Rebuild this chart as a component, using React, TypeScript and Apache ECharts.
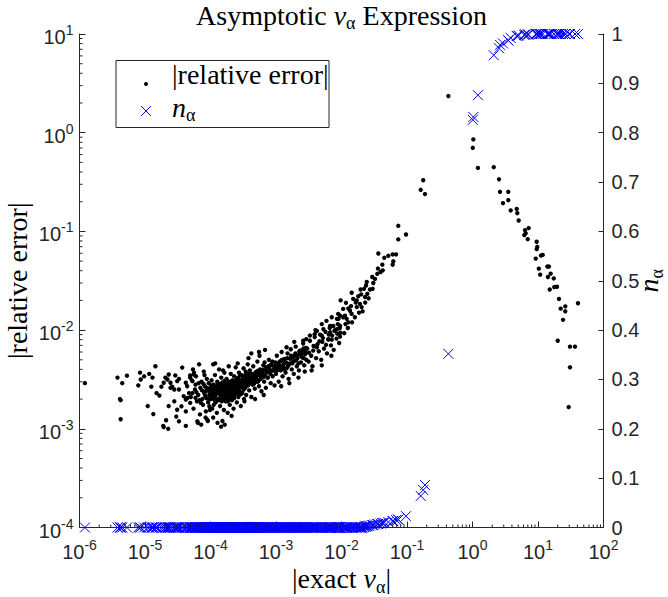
import React, { useEffect, useRef } from 'react';
import * as echarts from 'echarts';

const SERIF = '"Liberation Serif", "Times New Roman", serif';
const SANS = '"Liberation Sans", Arial, Helvetica, sans-serif';
const AXIS_COLOR = '#262626';
const BLUE = '#0000ff';

// ---- Data ----
// Pairs [|exact v_alpha|, |relative error|]; n_alpha is 0 for every point of these pair arrays.
const errSparse: number[][] = [
  [1.21e-6, 2.9e-3],
  [3.8e-6, 3.3e-3], [4.5e-6, 2.9e-3], [5.3e-6, 3.45e-3], [4.15e-6, 2.0e-3], [4.25e-6, 1.95e-3], [4.25e-6, 1.25e-3],
  [7.9e-6, 2.75e-3], [8.4e-6, 3.7e-3], [8.6e-6, 3.16e-3], [9.7e-6, 3.4e-3], [1.16e-5, 3.6e-3], [1.3e-5, 3.3e-3],
  [1.25e-5, 2.67e-3], [1.44e-5, 4.3e-3], [1.5e-5, 2.3e-3], [1.66e-5, 2.17e-3], [1.1e-5, 1.7e-3], [1.34e-5, 1.41e-3],
  [1.78e-5, 2.67e-3], [1.9e-5, 1.07e-3], [1.93e-5, 1.04e-3], [2.26e-5, 1.0e-3], [2.1e-5, 1.22e-3], [2.05e-5, 3.3e-3],
  [2.3e-5, 3.55e-3], [2.2e-5, 3.16e-3], [2.45e-5, 2.93e-3], [2.6e-5, 2.67e-3], [2.8e-5, 2.5e-3], [2.9e-5, 3.47e-3],
  [3.3e-5, 3.2e-3], [3.7e-5, 4.17e-3], [2.8e-5, 1.9e-3], [3.1e-5, 1.56e-3], [3.0e-5, 1.33e-3], [3.3e-5, 1.19e-3],
  [2.3e-5, 1.7e-3], [1.93e-5, 2.93e-3], [2.45e-5, 2.6e-3], [3.1e-5, 3.04e-3], [3.3e-5, 2.5e-3], [3.6e-5, 1.69e-3],
  [3.9e-5, 2.14e-3], [4.2e-5, 1.07e-3], [4.2e-5, 1.5e-3], [4.2e-5, 1.98e-3], [4.2e-5, 2.93e-3], [4.4e-5, 2.7e-3],
  [4.45e-5, 2.05e-3], [4.7e-5, 2.3e-3], [4.9e-5, 1.83e-3], [4.9e-5, 3.3e-3], [4.9e-5, 3.47e-3],
];

const errCore: number[][] = [
  [5.3e-5, 2.3e-3], [5.3e-5, 3.04e-3], [5.6e-5, 3.55e-3], [5.6e-5, 3.7e-3], [5.9e-5, 2.8e-3], [5.9e-5, 2.06e-3],
  [6.3e-5, 1.19e-3], [6.7e-5, 4.5e-3], [7.1e-5, 1.83e-3], [8.5e-5, 1.5e-3], [8.9e-5, 1.24e-3], [9.6e-5, 1.69e-3],
  [1.1e-4, 4.5e-3], [5.0e-5, 2.1e-3], [5.2e-5, 3.1e-3], [5.5e-5, 1.6e-3], [5.8e-5, 2.5e-3], [6.0e-5, 3.4e-3],
  [6.2e-5, 1.9e-3], [6.5e-5, 2.2e-3], [6.6e-5, 2.9e-3], [6.9e-5, 1.4e-3], [7.0e-5, 2.6e-3], [7.3e-5, 3.0e-3],
  [7.5e-5, 2.0e-3], [7.7e-5, 1.75e-3], [7.9e-5, 3.8e-3], [8.0e-5, 2.3e-3], [8.2e-5, 2.7e-3], [8.4e-5, 1.3e-3],
  [8.6e-5, 2.05e-3], [8.8e-5, 3.2e-3], [9.0e-5, 2.45e-3], [9.2e-5, 1.85e-3], [9.4e-5, 2.9e-3], [9.6e-5, 2.2e-3],
  [9.8e-5, 1.55e-3], [1.0e-4, 2.6e-3], [5.4e-5, 4.0e-3], [6.4e-5, 1.15e-3], [7.2e-5, 1.1e-3], [8.1e-5, 3.5e-3],
  [9.1e-5, 1.2e-3],
  [1.02e-4, 2.0e-3], [1.04e-4, 3.1e-3], [1.06e-4, 1.6e-3], [1.08e-4, 2.4e-3], [1.1e-4, 1.3e-3], [1.12e-4, 2.8e-3],
  [1.15e-4, 2.15e-3], [1.17e-4, 3.5e-3], [1.2e-4, 1.85e-3], [1.22e-4, 2.6e-3], [1.25e-4, 1.45e-3], [1.27e-4, 3.0e-3],
  [1.3e-4, 2.3e-3], [1.32e-4, 1.95e-3], [1.35e-4, 4.0e-3], [1.38e-4, 2.7e-3], [1.4e-4, 1.7e-3], [1.43e-4, 2.2e-3],
  [1.46e-4, 3.3e-3], [1.5e-4, 2.5e-3], [1.52e-4, 1.2e-3], [1.55e-4, 2.05e-3], [1.58e-4, 2.9e-3], [1.6e-4, 1.55e-3],
  [1.63e-4, 3.7e-3], [1.66e-4, 2.35e-3], [1.7e-4, 1.9e-3], [1.73e-4, 2.75e-3], [1.76e-4, 3.2e-3], [1.8e-4, 2.1e-3],
  [1.83e-4, 1.45e-3], [1.86e-4, 2.6e-3], [1.9e-4, 3.0e-3], [1.93e-4, 2.25e-3], [1.97e-4, 1.75e-3], [2.0e-4, 2.8e-3],
  [2.04e-4, 3.6e-3], [2.08e-4, 2.4e-3], [2.12e-4, 1.95e-3], [2.16e-4, 3.1e-3], [2.2e-4, 2.6e-3], [2.25e-4, 1.6e-3],
  [2.3e-4, 3.4e-3], [2.34e-4, 2.2e-3], [2.38e-4, 2.9e-3], [2.43e-4, 4.2e-3], [2.48e-4, 2.5e-3], [2.52e-4, 1.85e-3],
  [2.57e-4, 3.2e-3], [2.62e-4, 2.7e-3], [2.67e-4, 2.1e-3], [2.72e-4, 3.7e-3], [2.78e-4, 2.4e-3], [2.83e-4, 3.0e-3],
  [2.9e-4, 1.7e-3], [2.95e-4, 2.65e-3], [1.18e-4, 4.6e-3], [1.45e-4, 1.05e-3], [1.65e-4, 1.1e-3], [1.28e-4, 1.15e-3],
  [2.1e-4, 1.35e-3], [1.9e-4, 4.3e-3], [1.55e-4, 3.9e-3], [2.6e-4, 4.6e-3], [1.34e-4, 2.45e-3], [1.62e-4, 2.65e-3],
  [1.75e-4, 2.4e-3], [2.05e-4, 2.15e-3], [2.28e-4, 2.75e-3], [1.12e-4, 1.75e-3],
  [6.1e-5, 2.35e-3], [6.8e-5, 1.95e-3], [7.4e-5, 2.45e-3], [7.8e-5, 2.85e-3], [8.3e-5, 2.15e-3], [8.7e-5, 2.6e-3],
  [9.3e-5, 2.0e-3], [9.9e-5, 2.35e-3], [1.03e-4, 2.75e-3], [1.07e-4, 2.1e-3], [1.11e-4, 2.5e-3], [1.16e-4, 1.95e-3],
  [1.21e-4, 2.3e-3], [1.26e-4, 2.7e-3], [1.31e-4, 2.0e-3], [1.37e-4, 2.25e-3], [1.42e-4, 2.85e-3], [1.48e-4, 1.9e-3],
  [1.54e-4, 2.7e-3], [1.59e-4, 2.2e-3], [1.64e-4, 3.05e-3], [1.69e-4, 2.5e-3], [1.74e-4, 2.05e-3], [1.79e-4, 2.85e-3],
  [1.85e-4, 2.3e-3], [1.91e-4, 2.6e-3], [1.96e-4, 2.0e-3], [2.02e-4, 2.45e-3], [2.07e-4, 3.0e-3], [2.14e-4, 2.25e-3],
  [2.19e-4, 2.85e-3], [2.24e-4, 2.4e-3], [2.31e-4, 2.05e-3], [2.37e-4, 2.65e-3], [2.44e-4, 3.1e-3], [2.5e-4, 2.3e-3],
  [2.56e-4, 2.85e-3], [2.64e-4, 3.3e-3], [2.7e-4, 2.55e-3], [2.76e-4, 2.95e-3], [2.85e-4, 3.5e-3], [2.92e-4, 2.25e-3],
  [3.02e-4, 2.7e-3], [3.12e-4, 3.35e-3], [3.22e-4, 2.5e-3], [3.35e-4, 3.0e-3], [3.48e-4, 3.6e-3], [3.62e-4, 2.75e-3],
  [3.78e-4, 3.2e-3], [3.95e-4, 3.65e-3], [4.12e-4, 2.9e-3], [4.3e-4, 3.3e-3], [4.5e-4, 3.05e-3], [4.7e-4, 3.55e-3],
  [4.95e-4, 3.25e-3], [5.2e-4, 3.85e-3], [5.45e-4, 3.1e-3], [5.75e-4, 3.5e-3], [6.05e-4, 3.9e-3], [6.4e-4, 3.35e-3],
  [3.0e-4, 3.5e-3], [3.05e-4, 2.3e-3], [3.1e-4, 2.9e-3], [3.2e-4, 4.1e-3], [3.25e-4, 2.0e-3], [3.3e-4, 3.2e-3],
  [3.4e-4, 2.6e-3], [3.45e-4, 3.8e-3], [3.5e-4, 2.2e-3], [3.6e-4, 3.0e-3], [3.7e-4, 4.5e-3], [3.75e-4, 2.75e-3],
  [3.85e-4, 3.4e-3], [3.9e-4, 2.45e-3], [4.0e-4, 3.9e-3], [4.1e-4, 3.1e-3], [4.2e-4, 2.1e-3], [4.3e-4, 3.6e-3],
  [4.4e-4, 2.8e-3], [4.5e-4, 4.3e-3], [4.6e-4, 3.3e-3], [4.75e-4, 2.55e-3], [4.9e-4, 3.75e-3], [5.0e-4, 3.0e-3],
  [5.2e-4, 4.8e-3], [5.35e-4, 3.5e-3], [5.5e-4, 2.7e-3], [5.7e-4, 4.0e-3], [5.85e-4, 3.2e-3], [6.0e-4, 2.4e-3],
  [6.2e-4, 3.7e-3], [6.4e-4, 4.4e-3], [6.6e-4, 3.0e-3], [6.8e-4, 3.55e-3], [7.0e-4, 2.6e-3], [7.3e-4, 4.1e-3],
  [7.5e-4, 3.3e-3], [7.8e-4, 5.0e-3], [8.0e-4, 3.8e-3], [8.3e-4, 2.9e-3], [8.6e-4, 4.4e-3], [8.9e-4, 3.4e-3],
  [9.2e-4, 3.9e-3], [9.5e-4, 2.75e-3], [9.8e-4, 4.7e-3], [3.3e-4, 1.9e-3], [4.8e-4, 2.0e-3], [6.5e-4, 2.2e-3],
  [3.8e-4, 5.2e-3], [5.6e-4, 5.5e-3], [5.5e-4, 6.0e-3], [6.8e-4, 6.3e-3], [4.2e-4, 5.8e-3],
  [7.0e-4, 3.9e-3], [7.7e-4, 4.3e-3], [8.2e-4, 3.6e-3], [8.8e-4, 4.8e-3], [9.4e-4, 4.1e-3], [6.7e-4, 4.7e-3],
  [7.4e-4, 3.3e-3],
];

const errDense: number[][] = [
  [8.5e-5, 2.4e-3], [9.5e-5, 2.55e-3], [1.05e-4, 2.3e-3], [1.13e-4, 2.65e-3], [1.19e-4, 2.15e-3], [1.24e-4, 2.45e-3],
  [1.29e-4, 2.85e-3], [1.36e-4, 2.55e-3], [1.41e-4, 2.05e-3], [1.47e-4, 2.4e-3], [1.53e-4, 2.95e-3], [1.57e-4, 2.45e-3],
  [1.61e-4, 1.95e-3], [1.68e-4, 2.75e-3], [1.72e-4, 2.25e-3], [1.78e-4, 2.6e-3], [1.84e-4, 1.9e-3], [1.88e-4, 2.8e-3],
  [1.95e-4, 2.5e-3], [2.01e-4, 2.15e-3], [2.06e-4, 2.65e-3], [2.11e-4, 2.9e-3], [2.18e-4, 2.45e-3], [2.23e-4, 2.1e-3],
  [2.29e-4, 2.6e-3], [2.36e-4, 3.0e-3], [2.42e-4, 2.4e-3], [2.47e-4, 2.75e-3], [2.55e-4, 2.55e-3], [2.61e-4, 3.05e-3],
  [2.69e-4, 2.8e-3], [2.75e-4, 2.3e-3], [2.82e-4, 2.7e-3], [2.88e-4, 3.1e-3], [2.97e-4, 2.85e-3], [3.07e-4, 3.1e-3],
  [3.17e-4, 2.8e-3], [3.28e-4, 3.4e-3], [3.41e-4, 2.9e-3], [3.55e-4, 3.25e-3], [3.68e-4, 3.5e-3], [3.82e-4, 2.95e-3],
  [4.05e-4, 3.35e-3], [4.25e-4, 3.0e-3], [4.4e-4, 3.45e-3], [4.6e-4, 2.85e-3], [4.85e-4, 3.4e-3], [5.1e-4, 3.6e-3],
  [5.3e-4, 3.0e-3], [5.6e-4, 3.7e-3], [5.9e-4, 3.35e-3], [6.25e-4, 3.95e-3], [6.6e-4, 3.5e-3], [7.0e-4, 4.2e-3],
  [7.4e-4, 3.75e-3], [7.9e-4, 4.05e-3], [8.4e-4, 4.5e-3], [8.9e-4, 3.9e-3], [9.6e-4, 4.35e-3], [1.04e-3, 3.9e-3],
  [1.12e-3, 4.4e-3], [1.2e-3, 4.9e-3], [1.28e-3, 4.25e-3], [1.37e-3, 4.65e-3], [1.48e-3, 5.2e-3], [1.58e-3, 4.5e-3],
  [1.7e-3, 5.5e-3], [1.84e-3, 4.8e-3], [1.98e-3, 5.8e-3], [2.12e-3, 5.2e-3], [2.28e-3, 6.1e-3], [2.45e-3, 5.6e-3],
  [2.62e-3, 6.5e-3], [2.8e-3, 5.7e-3],
];

const errBand: number[][] = [
  [1.0e-3, 3.6e-3], [1.03e-3, 5.5e-3], [1.06e-3, 4.2e-3], [1.1e-3, 3.0e-3], [1.14e-3, 4.8e-3], [1.18e-3, 3.9e-3],
  [1.22e-3, 6.0e-3], [1.26e-3, 3.4e-3], [1.3e-3, 4.5e-3], [1.35e-3, 5.1e-3], [1.4e-3, 3.7e-3], [1.45e-3, 4.1e-3],
  [1.5e-3, 5.8e-3], [1.56e-3, 3.2e-3], [1.62e-3, 4.6e-3], [1.68e-3, 6.4e-3], [1.74e-3, 4.0e-3], [1.8e-3, 5.3e-3],
  [1.87e-3, 3.6e-3], [1.94e-3, 4.9e-3], [2.0e-3, 6.8e-3], [2.08e-3, 4.3e-3], [2.16e-3, 5.6e-3], [2.24e-3, 3.9e-3],
  [2.32e-3, 6.2e-3], [2.4e-3, 4.7e-3], [2.5e-3, 5.3e-3], [2.6e-3, 7.3e-3], [2.7e-3, 4.4e-3], [2.8e-3, 6.0e-3],
  [2.9e-3, 5.0e-3], [1.2e-3, 2.7e-3], [1.6e-3, 2.9e-3], [2.2e-3, 3.3e-3], [2.75e-3, 3.8e-3], [1.9e-3, 7.6e-3],
  [1.45e-3, 6.7e-3], [1.08e-3, 4.6e-3], [1.16e-3, 4.2e-3], [1.24e-3, 5.0e-3], [1.33e-3, 4.0e-3], [1.42e-3, 4.7e-3],
  [1.52e-3, 4.3e-3], [1.65e-3, 5.1e-3], [1.77e-3, 4.6e-3], [1.9e-3, 5.5e-3], [2.05e-3, 5.0e-3], [2.2e-3, 4.6e-3],
  [2.35e-3, 5.6e-3], [2.55e-3, 6.1e-3], [2.65e-3, 5.2e-3], [2.85e-3, 6.6e-3],
  [3.0e-3, 6.5e-3], [3.15e-3, 4.8e-3], [3.3e-3, 7.8e-3], [3.45e-3, 5.5e-3], [3.6e-3, 4.3e-3], [3.75e-3, 6.9e-3],
  [3.9e-3, 8.5e-3], [4.1e-3, 5.2e-3], [4.3e-3, 7.2e-3], [4.5e-3, 6.1e-3], [4.7e-3, 9.0e-3], [4.9e-3, 5.0e-3],
  [5.1e-3, 7.6e-3], [5.4e-3, 6.5e-3], [5.7e-3, 9.6e-3], [6.0e-3, 5.8e-3], [6.3e-3, 8.0e-3], [6.6e-3, 1.05e-2],
  [6.9e-3, 7.0e-3], [7.2e-3, 8.8e-3], [7.6e-3, 6.3e-3], [8.0e-3, 1.0e-2], [8.4e-3, 8.2e-3], [8.8e-3, 1.15e-2],
  [9.2e-3, 7.4e-3], [9.6e-3, 9.4e-3], [3.5e-3, 3.9e-3], [5.0e-3, 4.4e-3], [7.0e-3, 5.5e-3], [9.0e-3, 1.3e-2],
  [4.0e-3, 1.0e-2], [3.2e-3, 5.9e-3], [3.7e-3, 6.2e-3], [4.2e-3, 6.7e-3], [4.6e-3, 7.7e-3], [5.2e-3, 8.3e-3],
  [5.8e-3, 7.1e-3], [6.4e-3, 9.0e-3], [7.1e-3, 8.0e-3], [7.8e-3, 9.8e-3], [8.6e-3, 9.2e-3], [9.4e-3, 1.05e-2],
  [9.7e-3, 2.0e-2], [1.17e-2, 1.89e-2], [1.27e-2, 1.66e-2], [1.06e-2, 1.64e-2], [1.35e-2, 1.57e-2], [1.71e-2, 1.71e-2],
  [1.43e-2, 2.39e-2], [1.8e-2, 2.2e-2], [1.71e-2, 2.0e-2], [1.91e-2, 1.84e-2], [2.03e-2, 1.71e-2], [1.96e-2, 2.58e-2],
  [8.9e-3, 1.46e-2], [9.5e-3, 1.4e-2], [1.06e-2, 1.35e-2], [1.2e-2, 1.3e-2], [1.43e-2, 1.46e-2], [1.27e-2, 1.2e-2],
  [8.5e-3, 1.3e-2], [7.1e-3, 1.35e-2], [5.9e-3, 1.24e-2], [6.7e-3, 1.1e-2], [7.5e-3, 1.1e-2], [8.5e-3, 1.02e-2],
  [9.5e-3, 8.6e-3], [5.0e-3, 1.15e-2], [5.3e-3, 1.02e-2], [4.2e-3, 9.8e-3], [3.9e-3, 9.1e-3], [3.3e-3, 8.8e-3],
  [2.9e-3, 8.1e-3], [2.6e-3, 7.8e-3], [1.51e-2, 2.07e-2], [1.13e-2, 1.4e-2], [6.7e-3, 9.5e-3], [5.0e-3, 8.8e-3],
  [6.3e-3, 8.1e-3], [9.5e-3, 1.1e-2], [1.1e-2, 9.3e-3], [1.25e-2, 1.05e-2], [1.45e-2, 1.2e-2], [1.6e-2, 1.35e-2],
  [1.85e-2, 1.5e-2], [2.1e-2, 1.55e-2], [1.15e-2, 1.15e-2], [1.4e-2, 1.75e-2], [1.65e-2, 1.9e-2], [2.0e-2, 2.3e-2],
];

// Triples [|exact v_alpha|, |relative error|, n_alpha]
const errRise: number[][] = [
  [2.21e-2, 2.62e-2, 0.001], [2.29e-2, 2.16e-2, 0.002], [2.3e-2, 1.9e-2, 0.002], [2.37e-2, 2.83e-2, 0.002],
  [2.43e-2, 3.07e-2, 0.003], [2.48e-2, 2.33e-2, 0.003], [2.6e-2, 2.1e-2, 0.003], [2.72e-2, 2.58e-2, 0.004],
  [2.99e-2, 2.62e-2, 0.005], [2.95e-2, 3.45e-2, 0.005], [3.06e-2, 3.0e-2, 0.005], [3.25e-2, 3.3e-2, 0.006],
  [3.52e-2, 3.72e-2, 0.007], [3.6e-2, 4.2e-2, 0.007], [3.65e-2, 5.97e-2, 0.007], [3.96e-2, 3.88e-2, 0.008],
  [4.2e-2, 4.6e-2, 0.009], [4.26e-2, 4.03e-2, 0.009], [4.5e-2, 5.4e-2, 0.01], [5.19e-2, 5.66e-2, 0.011],
  [6.05e-2, 5.84e-2, 0.013], [6.05e-2, 4.6e-2, 0.013], [6.18e-2, 4.98e-2, 0.013], [6.79e-2, 5.84e-2, 0.015],
  [7.36e-2, 0.114, 0.016], [7.36e-2, 8.3e-2, 0.016], [9.66e-2, 9.3e-2, 0.023],
  [0.162, 0.264, 0.064], [0.177, 0.33, 0.076], [0.188, 0.239, 0.086],
];

const errPeak: number[][] = [
  [0.428, 2.35, 0.352], [1.01, 0.703, 0.826], [1.03, 0.855, 0.832], [1.21, 0.44, 0.876],
];

const errTail: number[][] = [
  [2.11, 0.447, 0.957], [2.54, 0.337, 0.971], [2.63, 0.252, 0.978], [2.92, 0.193, 0.981], [3.52, 0.252, 0.987],
  [3.52, 0.207, 0.987], [3.83, 0.163, 0.992], [4.73, 0.169, 0.996], [4.83, 0.153, 0.996], [5.07, 0.129, 0.997],
  [6.34, 0.103, 0.999], [7.21, 0.108, 0.999], [6.49, 0.0955, 0.999], [6.18, 0.0917, 0.998], [6.97, 0.0834, 0.999],
  [9.55, 0.0785, 1], [9.75, 0.0698, 1], [9.55, 0.066, 1], [9.23, 0.053, 1], [11.1, 0.0569, 1], [11.8, 0.0578, 1],
  [10.3, 0.0419, 1], [10.8, 0.0364, 1], [13.9, 0.044, 1], [14.7, 0.044, 1], [15.6, 0.0373, 1], [17.4, 0.0334, 1],
  [14.2, 0.0345, 1], [15.1, 0.0258, 1], [17.7, 0.0273, 1], [19.5, 0.0275, 1], [20.9, 0.0207, 1], [22.2, 0.0165, 1],
  [26.1, 0.0174, 1], [26.1, 0.0155, 1], [24.1, 0.0127, 1], [40.8, 0.0187, 1], [20.0, 7.8e-3, 1], [30.8, 6.8e-3, 1],
  [36.7, 6.8e-3, 1], [30.8, 4.2e-3, 1], [29.4, 1.66e-3, 1],
];

// Axis ranges / ticks
const xRange = [1e-6, 1e2];
const yLeftRange = [1e-4, 1e1];
const nTicks = { min: 0, max: 1, step: 0.1 };

export default function App() {
  const ref = useRef<HTMLDivElement>(null);

  useEffect(() => {
    if (!ref.current) return;
    const chart = echarts.init(ref.current, null, { renderer: 'svg' });

    const zeroN = [...errSparse, ...errCore, ...errDense, ...errBand];
    const withN = [...errRise, ...errPeak, ...errTail];
    const relErrData = [...zeroN.map((p) => [p[0], p[1]]), ...withN.map((t) => [t[0], t[1]])];
    const nAlphaData = [...zeroN.map((p) => [p[0], 0]), ...withN.map((t) => [t[0], t[2]])];

    // minor tick positions of the log axes (2..9 times each decade)
    const xMinor: number[][] = [];
    for (let e = -6; e < 2; e++) for (let m = 2; m <= 9; m++) xMinor.push([m * Math.pow(10, e), 1]);
    const yMinor: number[][] = [];
    for (let e = -4; e < 1; e++) for (let m = 2; m <= 9; m++) yMinor.push([1, m * Math.pow(10, e)]);

    const powLabel = (v: number) => `{b|10}{s|${Math.round(Math.log10(v))}}`;
    const powRich = {
      b: { fontFamily: SANS, fontSize: 20, color: AXIS_COLOR, lineHeight: 28 },
      s: { fontFamily: SANS, fontSize: 14, color: AXIS_COLOR, verticalAlign: 'top' },
    };
    const latexRich = {
      it: { fontFamily: SERIF, fontSize: 28, fontStyle: 'italic', color: '#000', lineHeight: 34 },
      sub: { fontFamily: SERIF, fontSize: 18, verticalAlign: 'bottom', color: '#000' },
    };
    const graphicRich = {
      it: { fontFamily: SERIF, fontSize: 28, fontStyle: 'italic', fill: '#000', lineHeight: 34 },
      sub: { fontFamily: SERIF, fontSize: 18, fill: '#000', verticalAlign: 'bottom' },
    };

    const option: any = {
      animation: false,
      backgroundColor: '#ffffff',
      grid: { left: 79.5, right: 64.5, top: 34, bottom: 69.5, containLabel: false, outerBoundsMode: 'none' },
      xAxis: {
        type: 'log',
        logBase: 10,
        min: xRange[0],
        max: xRange[1],
        name: '|exact {it|v}{sub|α}|',
        nameLocation: 'middle',
        nameGap: 34,
        nameMoveOverlap: false,
        nameTextStyle: { fontFamily: SERIF, fontSize: 28, color: '#000', lineHeight: 34, rich: latexRich },
        axisLine: { show: true, onZero: false, lineStyle: { color: AXIS_COLOR, width: 1 } },
        axisTick: { show: true, inside: true, length: 6, lineStyle: { color: AXIS_COLOR } },
        axisLabel: { formatter: powLabel, rich: powRich, margin: 10, showMinLabel: true, showMaxLabel: true, hideOverlap: false },
        splitLine: { show: false },
      },
      yAxis: [
        {
          type: 'log',
          logBase: 10,
          min: yLeftRange[0],
          max: yLeftRange[1],
          position: 'left',
          name: '|relative error|',
          nameLocation: 'middle',
          nameGap: 46,
          nameMoveOverlap: false,
          nameTextStyle: { fontFamily: SERIF, fontSize: 28, color: '#000', lineHeight: 32 },
          axisLine: { show: true, lineStyle: { color: AXIS_COLOR, width: 1 } },
          axisTick: { show: true, inside: true, length: 6, lineStyle: { color: AXIS_COLOR } },
          axisLabel: { formatter: powLabel, rich: powRich, margin: 6, padding: [6, 0, 0, 0], showMinLabel: true, showMaxLabel: true },
          splitLine: { show: false },
        },
        {
          type: 'value',
          min: nTicks.min,
          max: nTicks.max,
          interval: nTicks.step,
          position: 'right',
          name: '{it|n}{sub|α}',
          nameLocation: 'middle',
          nameGap: 28,
          nameMoveOverlap: false,
          nameTextStyle: { fontFamily: SERIF, fontSize: 28, color: '#000', lineHeight: 34, rich: latexRich },
          axisLine: { show: true, lineStyle: { color: AXIS_COLOR, width: 1 } },
          axisTick: { show: true, inside: true, length: 5, lineStyle: { color: AXIS_COLOR } },
          axisLabel: { fontFamily: SANS, fontSize: 20, color: AXIS_COLOR, margin: 8, padding: [0, 0, 3, 0] },
          splitLine: { show: false },
        },
      ],
      series: [
        {
          name: '|relative error|',
          type: 'scatter',
          xAxisIndex: 0,
          yAxisIndex: 0,
          symbol: 'circle',
          symbolSize: 4.4,
          itemStyle: { color: '#000', opacity: 1 },
          data: relErrData,
          z: 3,
        },
        {
          name: 'n_alpha',
          type: 'scatter',
          xAxisIndex: 0,
          yAxisIndex: 1,
          symbol: 'path://M0,0L10,10M10,0L0,10',
          symbolSize: 10,
          itemStyle: { color: 'transparent', borderColor: BLUE, borderWidth: 1, opacity: 1 },
          data: nAlphaData,
          clip: false,
          z: 4,
        },
        {
          type: 'custom',
          xAxisIndex: 0,
          yAxisIndex: 0,
          silent: true,
          clip: false,
          z: 5,
          data: xMinor,
          renderItem: (params: any, api: any) => {
            const cs = params.coordSys;
            const x = api.coord([api.value(0), 1])[0];
            const yb = cs.y + cs.height;
            return { type: 'line', shape: { x1: x, y1: yb, x2: x, y2: yb - 3 }, style: { stroke: AXIS_COLOR, lineWidth: 1 } };
          },
        },
        {
          type: 'custom',
          xAxisIndex: 0,
          yAxisIndex: 0,
          silent: true,
          clip: false,
          z: 5,
          data: yMinor,
          renderItem: (params: any, api: any) => {
            const cs = params.coordSys;
            const y = api.coord([1, api.value(1)])[1];
            return { type: 'line', shape: { x1: cs.x, y1: y, x2: cs.x + 3, y2: y }, style: { stroke: AXIS_COLOR, lineWidth: 1 } };
          },
        },
      ],
      graphic: [
        {
          type: 'text',
          x: 341.5,
          y: 15,
          style: {
            text: 'Asymptotic {it|v}{sub|α} Expression',
            fontFamily: SERIF,
            fontSize: 28,
            fill: '#000',
            align: 'center',
            verticalAlign: 'middle',
            lineHeight: 34,
            rich: graphicRich,
          },
          z: 100,
        },
        {
          type: 'rect',
          shape: { x: 116, y: 60.5, width: 213, height: 67 },
          style: { fill: '#ffffff', stroke: AXIS_COLOR, lineWidth: 1 },
          z: 100,
        },
        { type: 'circle', shape: { cx: 146, cy: 84, r: 2 }, style: { fill: '#000' }, z: 101 },
        { type: 'line', shape: { x1: 141, y1: 106, x2: 151, y2: 116 }, style: { stroke: BLUE, lineWidth: 1 }, z: 101 },
        { type: 'line', shape: { x1: 151, y1: 106, x2: 141, y2: 116 }, style: { stroke: BLUE, lineWidth: 1 }, z: 101 },
        {
          type: 'text',
          x: 172,
          y: 74,
          style: { text: '|relative error|', fontFamily: SERIF, fontSize: 28, fill: '#000', verticalAlign: 'middle' },
          z: 101,
        },
        {
          type: 'text',
          x: 172,
          y: 107,
          style: {
            text: '{it|n}{sub|α}',
            fontFamily: SERIF,
            fontSize: 28,
            fill: '#000',
            verticalAlign: 'middle',
            lineHeight: 34,
            rich: graphicRich,
          },
          z: 101,
        },
      ],
    };

    chart.setOption(option);
    return () => chart.dispose();
  }, []);

  return <div ref={ref} style={{ position: 'absolute', left: 0, top: 0, width: 668, height: 597 }} />;
}
